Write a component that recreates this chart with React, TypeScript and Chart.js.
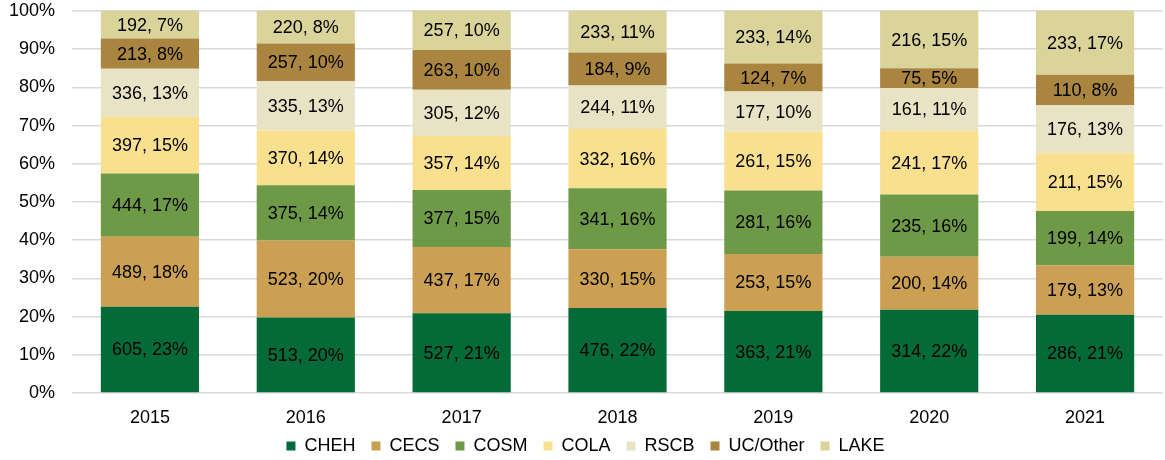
import React, { useEffect, useRef } from "react";
import { Chart, registerables } from "chart.js";

Chart.register(...registerables);

const years = ["2015", "2016", "2017", "2018", "2019", "2020", "2021"];
const seriesNames = ["CHEH", "CECS", "COSM", "COLA", "RSCB", "UC/Other", "LAKE"];
const CHEH = [605, 513, 527, 476, 363, 314, 286];
const CECS = [489, 523, 437, 330, 253, 200, 179];
const COSM = [444, 375, 377, 341, 281, 235, 199];
const COLA = [397, 370, 357, 332, 261, 241, 211];
const RSCB = [336, 335, 305, 244, 177, 161, 176];
const UCOther = [213, 257, 263, 184, 124, 75, 110];
const LAKE = [192, 220, 257, 233, 233, 216, 233];
// percentage labels as printed on the chart
const CHEHPct = [23, 20, 21, 22, 21, 22, 21];
const CECSPct = [18, 20, 17, 15, 15, 14, 13];
const COSMPct = [17, 14, 15, 16, 16, 16, 14];
const COLAPct = [15, 14, 14, 16, 15, 17, 15];
const RSCBPct = [13, 13, 12, 11, 10, 11, 13];
const UCOtherPct = [8, 10, 10, 9, 7, 5, 8];
const LAKEPct = [7, 8, 10, 11, 14, 15, 17];
const colors = ["#036a38", "#cba052", "#6e9a48", "#f9e08f", "#e7e3c4", "#a9853f", "#dad39a"];
const yTicks = [0, 10, 20, 30, 40, 50, 60, 70, 80, 90, 100];

const allValues = [CHEH, CECS, COSM, COLA, RSCB, UCOther, LAKE];
const allPctLabels = [CHEHPct, CECSPct, COSMPct, COLAPct, RSCBPct, UCOtherPct, LAKEPct];
const FONT = "'Liberation Sans', Arial, sans-serif";

export default function App() {
  const ref = useRef<HTMLCanvasElement | null>(null);
  useEffect(() => {
    if (!ref.current) return;
    const totals = years.map((_, j) => allValues.reduce((s, arr) => s + arr[j], 0));
    const shares = allValues.map((arr) => arr.map((v, j) => (v / totals[j]) * 100));

    const labelPlugin = {
      id: "segLabels",
      afterLayout(chart: any) {
        // let x tick labels extend below the (compact) axis box without clipping
        const xs = chart.scales.x;
        if (xs) xs.bottom = xs.top + 40;
      },
      afterDatasetsDraw(chart: any) {
        const ctx = chart.ctx;
        ctx.save();
        ctx.font = `18px ${FONT}`;
        ctx.fillStyle = "#000";
        ctx.textAlign = "center";
        ctx.textBaseline = "middle";
        chart.data.datasets.forEach((_ds: any, i: number) => {
          const meta = chart.getDatasetMeta(i);
          meta.data.forEach((el: any, j: number) => {
            ctx.fillText(`${allValues[i][j]}, ${allPctLabels[i][j]}%`, el.x, (el.y + el.base) / 2 + 1);
          });
        });
        ctx.restore();
      },
    };

    const chart = new Chart(ref.current, {
      type: "bar",
      data: {
        labels: years,
        datasets: seriesNames.map((name, i) => ({
          label: name,
          data: shares[i],
          backgroundColor: colors[i],
          borderWidth: 0,
          categoryPercentage: 1,
          barPercentage: 0.63,
        })),
      },
      options: {
        animation: false,
        responsive: false,
        maintainAspectRatio: false,
        layout: { padding: { left: 8, right: 2, top: 11, bottom: -5 } },
        scales: {
          x: {
            stacked: true,
            grid: { display: false, drawTicks: false },
            border: { display: false },
            afterFit: (s: any) => {
              s.height = 28;
              s.paddingLeft = 0;
              s.paddingRight = 0;
            },
            ticks: {
              padding: 14,
              color: "#000",
              font: { size: 18, family: FONT },
            },
          },
          y: {
            stacked: true,
            min: 0,
            max: 100,
            afterBuildTicks: (axis: any) => {
              axis.ticks = yTicks.map((v) => ({ value: v }));
            },
            afterFit: (s: any) => {
              s.width = 64;
              s.paddingTop = 0;
              s.paddingBottom = 0;
            },
            grid: { color: "#d9d9d9", lineWidth: 1.5, drawTicks: false },
            border: { display: false },
            ticks: {
              padding: 17,
              color: "#000",
              font: { size: 18, family: FONT },
              callback: (v: any) => `${v}%`,
            },
          },
        },
        plugins: {
          legend: {
            position: "bottom",
            labels: {
              boxWidth: 9,
              boxHeight: 9,
              padding: 16,
              color: "#000",
              font: { size: 18, family: FONT },
            },
          },
          tooltip: { enabled: false },
        },
      },
      plugins: [labelPlugin],
    });
    return () => chart.destroy();
  }, []);
  return (
    <div style={{ position: "fixed", left: 0, top: 0, width: 1165, height: 460 }}>
      <canvas ref={ref} width={1165} height={460} style={{ display: "block" }} />
    </div>
  );
}
